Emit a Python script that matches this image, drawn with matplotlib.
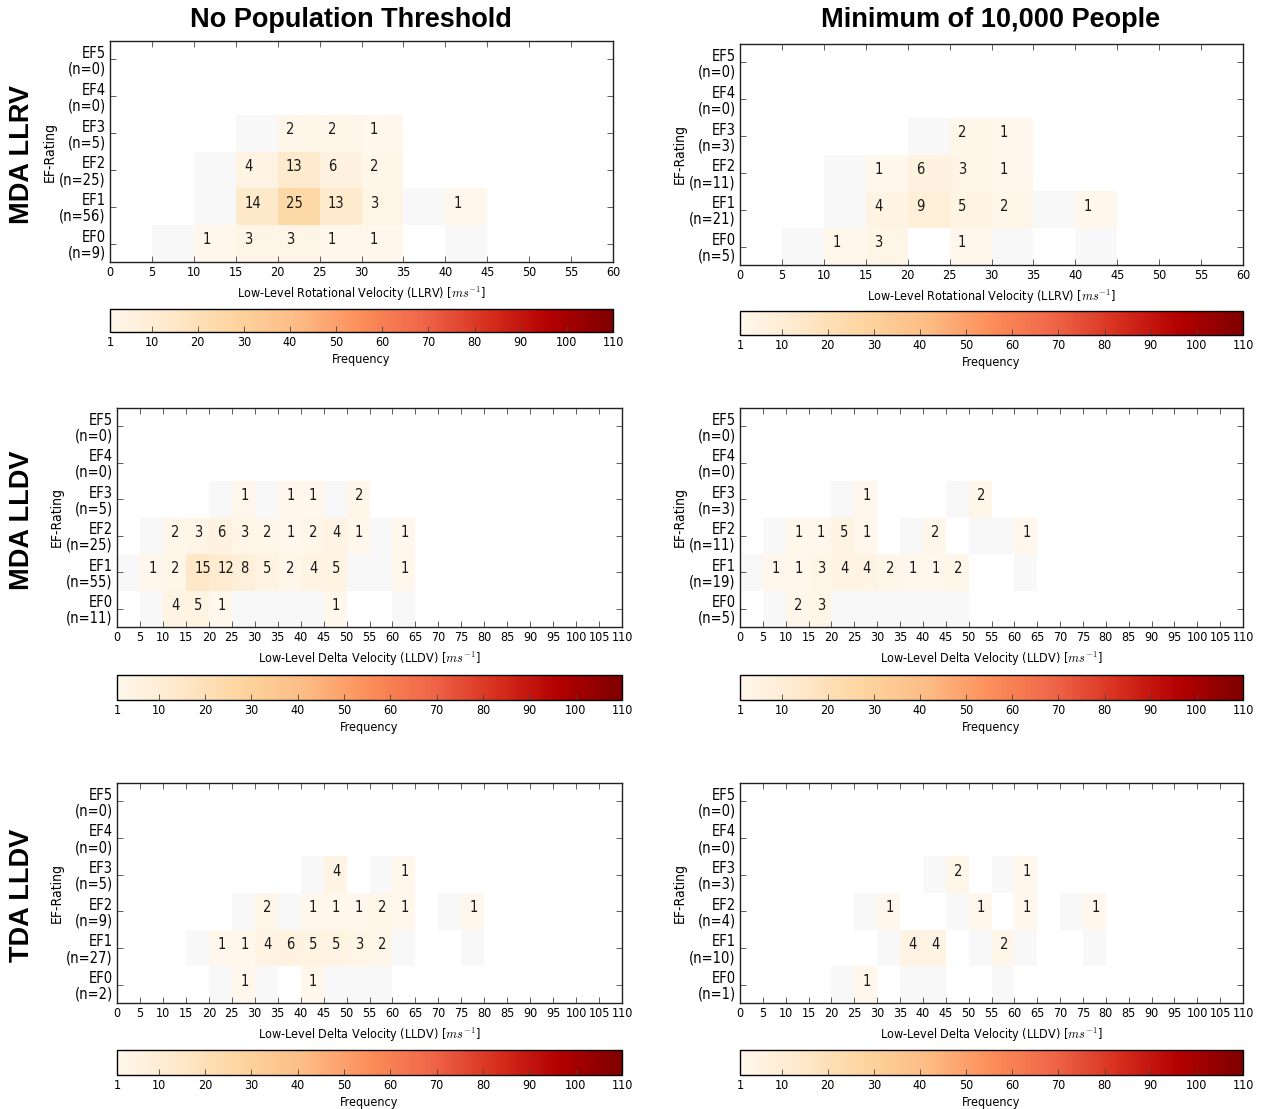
import numpy as np
import matplotlib
matplotlib.use("Agg")
import matplotlib.pyplot as plt
from matplotlib.colors import Normalize, ListedColormap
from matplotlib.cm import ScalarMappable
from matplotlib import font_manager

# =========================================================
# DATA  (counts per 5 m/s bin, rows EF0..EF3; EF4/EF5 have none)
# None = no cell drawn, 0 = empty bin drawn as a faint cell
# =========================================================
N = None

EF_NAMES = ["EF0", "EF1", "EF2", "EF3", "EF4", "EF5"]

LLRV_EDGES = list(range(0, 65, 5))    # 0 .. 60
LLDV_EDGES = list(range(0, 115, 5))   # 0 .. 110

# MDA LLRV, no population threshold
llrv_all_ef0 = [N, 0, 1, 3, 3, 1, 1, N, 0, N, N, N]
llrv_all_ef1 = [N, N, 0, 14, 25, 13, 3, 0, 1, N, N, N]
llrv_all_ef2 = [N, N, 0, 4, 13, 6, 2, N, N, N, N, N]
llrv_all_ef3 = [N, N, N, 0, 2, 2, 1, N, N, N, N, N]
llrv_all_n = [9, 56, 25, 5, 0, 0]

# MDA LLRV, minimum of 10,000 people
llrv_pop_ef0 = [N, 0, 1, 3, N, 1, 0, N, 0, N, N, N]
llrv_pop_ef1 = [N, N, 0, 4, 9, 5, 2, 0, 1, N, N, N]
llrv_pop_ef2 = [N, N, 0, 1, 6, 3, 1, N, N, N, N, N]
llrv_pop_ef3 = [N, N, N, N, 0, 2, 1, N, N, N, N, N]
llrv_pop_n = [5, 21, 11, 3, 0, 0]

# MDA LLDV, no population threshold (bins 0..75, rest empty)
mda_all_ef0 = [N, 0, 4, 5, 1, 0, 0, 0, 0, 1, N, N, 0, N, N, N]
mda_all_ef1 = [0, 1, 2, 15, 12, 8, 5, 2, 4, 5, 0, 0, 1, N, N, N]
mda_all_ef2 = [N, 0, 2, 3, 6, 3, 2, 1, 2, 4, 1, 0, 1, N, N, N]
mda_all_ef3 = [N, N, N, N, 0, 1, 0, 1, 1, 0, 2, N, N, N, N, N]
mda_all_n = [11, 55, 25, 5, 0, 0]

# MDA LLDV, minimum of 10,000 people
mda_pop_ef0 = [N, 0, 2, 3, 0, 0, 0, 0, 0, 0, N, N, N, N, N, N]
mda_pop_ef1 = [0, 1, 1, 3, 4, 4, 2, 1, 1, 2, N, N, 0, N, N, N]
mda_pop_ef2 = [N, 0, 1, 1, 5, 1, N, 0, 2, N, 0, 0, 1, N, N, N]
mda_pop_ef3 = [N, N, N, N, 0, 1, N, N, N, 0, 2, N, N, N, N, N]
mda_pop_n = [5, 19, 11, 3, 0, 0]

# TDA LLDV, no population threshold
tda_all_ef0 = [N, N, N, N, 0, 1, 0, N, 1, 0, 0, 0, N, N, N, N]
tda_all_ef1 = [N, N, N, 0, 1, 1, 4, 6, 5, 5, 3, 2, 0, N, N, 0]
tda_all_ef2 = [N, N, N, N, N, 0, 2, 0, 1, 1, 1, 2, 1, N, 0, 1]
tda_all_ef3 = [N, N, N, N, N, N, N, N, 0, 4, N, 0, 1, N, N, N]
tda_all_n = [2, 27, 9, 5, 0, 0]

# TDA LLDV, minimum of 10,000 people
tda_pop_ef0 = [N, N, N, N, 0, 1, N, 0, 0, N, N, 0, N, N, N, N]
tda_pop_ef1 = [N, N, N, N, N, N, 0, 4, 4, N, 0, 2, 0, N, N, 0]
tda_pop_ef2 = [N, N, N, N, N, 0, 1, N, N, 0, 1, N, 1, N, 0, 1]
tda_pop_ef3 = [N, N, N, N, N, N, N, N, 0, 2, N, 0, 1, N, N, N]
tda_pop_n = [1, 10, 4, 3, 0, 0]

COL_TITLES = ["No Population Threshold", "Minimum of 10,000 People"]
ROW_TITLES = ["MDA LLRV", "MDA LLDV", "TDA LLDV"]
XLABELS = [
    r"Low-Level Rotational Velocity (LLRV) [$ms^{-1}$]",
    r"Low-Level Delta Velocity (LLDV) [$ms^{-1}$]",
    r"Low-Level Delta Velocity (LLDV) [$ms^{-1}$]",
]
CBAR_TICKS = [1, 10, 20, 30, 40, 50, 60, 70, 80, 90, 100, 110]
VMIN, VMAX = 1, 110

# =========================================================
# STYLE
# =========================================================
plt.rcParams["font.family"] = ["DejaVu Sans"]
plt.rcParams["font.stretch"] = "condensed"
plt.rcParams["mathtext.fontset"] = "cm"

# narrow text face if one is installed, else plain DejaVu
_narrow = font_manager.findfont(
    font_manager.FontProperties(family="DejaVu Sans", stretch="condensed"))
NARROW_COND = "Condensed" in _narrow
TICK_FS = 9 if NARROW_COND else 8.3
EF_FS = 10.5 if NARROW_COND else 10
LABEL_FS = 9 if NARROW_COND else 8.2

CMAP = plt.get_cmap("OrRd")
NORM = Normalize(VMIN, VMAX)
FAINT = ListedColormap(["#f8f8f8"])


def build_grid(rows, edges):
    """Stack EF0..EF3 rows (padded to full width) plus empty EF4/EF5."""
    nbins = len(edges) - 1
    grid = np.full((6, nbins), np.nan)
    for i, r in enumerate(rows):
        for j, v in enumerate(r):
            if v is not None:
                grid[i, j] = v
    return grid


def draw_panel(fig, rect, cbar_rect, grid, edges, n_counts, xlabel):
    ax = fig.add_axes(rect)
    x = np.array(edges)
    y = np.arange(7)

    # ---- faint empty bins ----
    zeros = np.ma.masked_where(~(grid == 0), grid)
    ax.pcolormesh(x, y, zeros, cmap=FAINT, vmin=0, vmax=1)

    # ---- filled bins ----
    filled = np.ma.masked_where(~(grid >= 1), grid)
    ax.pcolormesh(x, y, filled, cmap=CMAP, norm=NORM)

    # ---- annotations ----
    for i in range(grid.shape[0]):
        for j in range(grid.shape[1]):
            v = grid[i, j]
            if v >= 1:
                ax.text(x[j] + 1.0 * (x[-1] / 60.0), i + 0.6, str(int(v)),
                        ha="left", va="center", fontsize=EF_FS, color="#1a1a1a")

    ax.set_xlim(x[0], x[-1])
    ax.set_ylim(0, 6)
    ax.set_xticks(x)
    ax.set_xticklabels([str(v) for v in x], fontsize=TICK_FS)
    ax.set_yticks(np.arange(6) + 0.5)
    ax.set_yticklabels([f"{ef}\n(n={n})" for ef, n in zip(EF_NAMES, n_counts)],
                       fontsize=EF_FS, linespacing=1.05)
    ax.tick_params(direction="in", top=True, right=True, length=4, width=0.6,
                   pad=3, color="#444444")
    ax.set_xlabel(xlabel, fontsize=LABEL_FS, labelpad=4)
    ax.set_ylabel("EF-Rating", fontsize=10, labelpad=2)
    for s in ax.spines.values():
        s.set_linewidth(1.0)
        s.set_color("#222222")

    # ---- colorbar ----
    cax = fig.add_axes(cbar_rect)
    sm = ScalarMappable(norm=NORM, cmap=CMAP)
    cb = fig.colorbar(sm, cax=cax, orientation="horizontal", ticks=CBAR_TICKS)
    cb.ax.tick_params(direction="in", length=4, width=0.6, labelsize=TICK_FS,
                      pad=3, color="#444444")
    cb.outline.set_linewidth(1.0)
    cb.set_label("Frequency", fontsize=LABEL_FS, labelpad=3)
    return ax


# =========================================================
# FIGURE
# =========================================================
W, H = 1266, 1109
fig = plt.figure(figsize=(W / 100, H / 100), dpi=100)


def frac(x0, y0, x1, y1):
    return [x0 / W, 1 - y1 / H, (x1 - x0) / W, (y1 - y0) / H]


panels = [
    # (row, col, rows, edges, n, axes px, cbar px)
    (0, 0, [llrv_all_ef0, llrv_all_ef1, llrv_all_ef2, llrv_all_ef3], LLRV_EDGES,
     llrv_all_n, (110, 41, 613, 262), (110, 309, 613, 332)),
    (0, 1, [llrv_pop_ef0, llrv_pop_ef1, llrv_pop_ef2, llrv_pop_ef3], LLRV_EDGES,
     llrv_pop_n, (740, 44, 1243, 265), (740, 311, 1243, 335)),
    (1, 0, [mda_all_ef0, mda_all_ef1, mda_all_ef2, mda_all_ef3], LLDV_EDGES,
     mda_all_n, (117, 408, 622, 627), (117, 675, 622, 700)),
    (1, 1, [mda_pop_ef0, mda_pop_ef1, mda_pop_ef2, mda_pop_ef3], LLDV_EDGES,
     mda_pop_n, (740, 408, 1243, 627), (740, 675, 1243, 700)),
    (2, 0, [tda_all_ef0, tda_all_ef1, tda_all_ef2, tda_all_ef3], LLDV_EDGES,
     tda_all_n, (117, 783, 622, 1003), (117, 1050, 622, 1075)),
    (2, 1, [tda_pop_ef0, tda_pop_ef1, tda_pop_ef2, tda_pop_ef3], LLDV_EDGES,
     tda_pop_n, (740, 783, 1243, 1003), (740, 1050, 1243, 1075)),
]

for r, c, rows, edges, ns, apx, cpx in panels:
    grid = build_grid(rows, edges)
    draw_panel(fig, frac(*apx), frac(*cpx), grid, edges, ns, XLABELS[r])

# ---- column / row titles ----
for text, xc in zip(COL_TITLES, [351, 991]):
    fig.text(xc / W, 1 - 20 / H, text, ha="center", va="center",
             fontsize=19.5, fontweight="bold", family="Liberation Sans",
             fontstretch="normal")
for text, yc in zip(ROW_TITLES, [155, 520, 895]):
    fig.text(22 / W, 1 - yc / H, text, ha="center", va="center", rotation=90,
             fontsize=19.5, fontweight="bold", family="Liberation Sans",
             fontstretch="normal")

fig.savefig("out.png", dpi=100, facecolor="white")
